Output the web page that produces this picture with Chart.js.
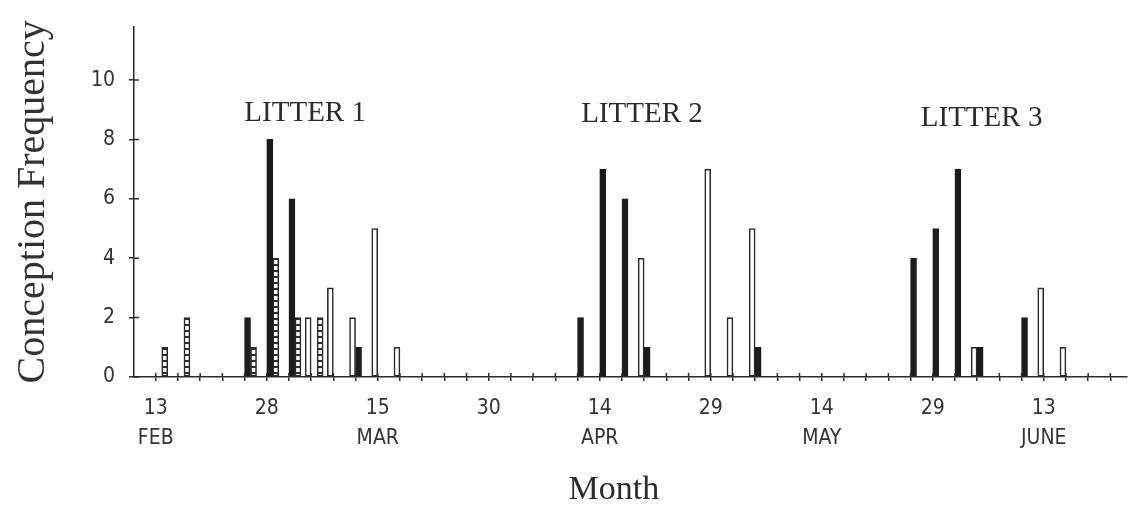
<!DOCTYPE html>
<html>
<head>
<meta charset="utf-8">
<script src="https://cdn.jsdelivr.net/npm/chart.js@4"></script>
<style>
  html, body { margin: 0; padding: 0; background: #fff; }
  #wrap { width: 1131px; height: 510px; }
</style>
</head>
<body>
<div id="wrap"><canvas id="chart"></canvas></div>
<script>
// x axis: one tick per 3-day bin, bin 0 = 13 Feb
const dayLabels = ['13', '28', '15', '30', '14', '29', '14', '29', '13'];
const monthLabels = ['FEB', '', 'MAR', '', 'APR', '', 'MAY', '', 'JUNE'];

// series: bin index and conception frequency
const solidBins = [4, 5, 6, 9, 19, 20, 21, 22, 27, 34, 35, 36, 37, 39];
const solidFreq = [2, 8, 6, 1, 2, 7, 6, 1, 1, 4, 5, 7, 1, 2];
const openBins = [7, 8, 9, 10, 11, 22, 25, 26, 27, 37, 40, 41];
const openFreq = [2, 3, 2, 5, 1, 4, 7, 2, 5, 1, 3, 1];
const hatchBins = [0, 1, 4, 5, 6, 7];
const hatchFreq = [1, 2, 1, 4, 2, 2];

const litterNames = ['LITTER 1', 'LITTER 2', 'LITTER 3'];
const litterBin = [6.73, 21.9, 37.2];
const litterLevel = [8.87, 8.84, 8.7];

const INK = '#2b2b2b';
const BAR_W = 6;
const SHIFT = 0.135; // puts the solid bar just right of its tick

function points(bins, freq) {
    return bins.map((b, i) => ({ x: b + SHIFT, y: freq[i] }));
}

function makeHatch() {
    const c = document.createElement('canvas');
    c.width = 6; c.height = 6;
    const g = c.getContext('2d');
    g.fillStyle = '#fff';
    g.fillRect(0, 0, 6, 6);
    g.fillStyle = INK;
    g.fillRect(0, 0, 6, 2);
    return g.createPattern(c, 'repeat');
}

const crossTicks = {
    id: 'crossTicks',
    afterDraw(chart) {
        const ctx = chart.ctx;
        const xs = chart.scales.x, ys = chart.scales.y;
        const a = chart.chartArea;
        ctx.save();
        ctx.strokeStyle = INK;
        ctx.lineWidth = 1.5;
        ctx.beginPath();
        xs.ticks.forEach(t => {
            const px = xs.getPixelForValue(t.value);
            ctx.moveTo(px, a.bottom);
            ctx.lineTo(px, a.bottom - 4);
        });
        ys.ticks.forEach(t => {
            const py = ys.getPixelForValue(t.value);
            ctx.moveTo(a.left, py);
            ctx.lineTo(a.left + 5, py);
        });
        ctx.stroke();

        ctx.fillStyle = INK;
        ctx.textAlign = 'center';
        ctx.textBaseline = 'middle';
        ctx.font = '29px "Liberation Serif", serif';
        litterNames.forEach((name, i) => {
            ctx.fillText(name, xs.getPixelForValue(litterBin[i]), ys.getPixelForValue(litterLevel[i]));
        });
        ctx.font = '34px "Liberation Serif", serif';
        ctx.fillText('Month', xs.getPixelForValue(20.64), chart.height - 20);
        ctx.restore();
    }
};

const ctx = document.getElementById('chart').getContext('2d');
const hatch = makeHatch();

new Chart(ctx, {
    type: 'bar',
    data: {
        datasets: [
            {
                label: 'open',
                data: points(openBins, openFreq),
                backgroundColor: '#fff',
                borderColor: INK,
                borderWidth: 1.6,
                borderSkipped: false
            },
            {
                label: 'solid',
                data: points(solidBins, solidFreq),
                backgroundColor: '#1c1c1c',
                borderColor: '#1c1c1c',
                borderWidth: 1,
                borderSkipped: false
            },
            {
                label: 'hatched',
                data: points(hatchBins, hatchFreq),
                backgroundColor: hatch,
                borderColor: INK,
                borderWidth: 1.6,
                borderSkipped: false
            }
        ]
    },
    options: {
        responsive: true,
        maintainAspectRatio: false,
        animation: false,
        barThickness: BAR_W,
        layout: { padding: { top: 24, right: 4, left: 0, bottom: 0 } },
        plugins: {
            legend: { display: false },
            tooltip: { enabled: false }
        },
        scales: {
            x: {
                type: 'linear',
                offset: false,
                min: -0.98,
                max: 43.75,
                grid: { offset: false, drawOnChartArea: false, drawTicks: true, tickLength: 4, color: INK, lineWidth: 1.5 },
                border: { display: true, color: INK, width: 1.5 },
                ticks: {
                    stepSize: 1,
                    autoSkip: false,
                    includeBounds: false,
                    maxRotation: 0,
                    padding: 12,
                    color: '#333',
                    font: { family: '"Liberation Sans Narrow", "DejaVu Sans Condensed", "Liberation Sans", sans-serif', size: 21, lineHeight: 1.45 },
                    callback: v => (v % 5 === 0 && v >= 0) ? [dayLabels[v / 5], monthLabels[v / 5]] : ''
                },
                afterFit: s => { s.height = 133; }
            },
            y: {
                min: 0,
                max: 11.8,
                grid: { drawOnChartArea: false, drawTicks: true, tickLength: 5, color: INK, lineWidth: 1.5 },
                border: { display: true, color: INK, width: 1.5 },
                ticks: {
                    stepSize: 2,
                    includeBounds: false,
                    padding: 14,
                    color: '#333',
                    font: { family: '"Liberation Sans Narrow", "DejaVu Sans Condensed", "Liberation Sans", sans-serif', size: 21 }
                },
                title: {
                    display: true,
                    text: 'Conception Frequency',
                    color: '#333',
                    padding: { top: 9, bottom: 0 },
                    font: { family: '"Liberation Serif", serif', size: 40 }
                },
                afterFit: s => { s.width = 134; }
            }
        }
    },
    plugins: [crossTicks]
});
</script>
</body>
</html>
